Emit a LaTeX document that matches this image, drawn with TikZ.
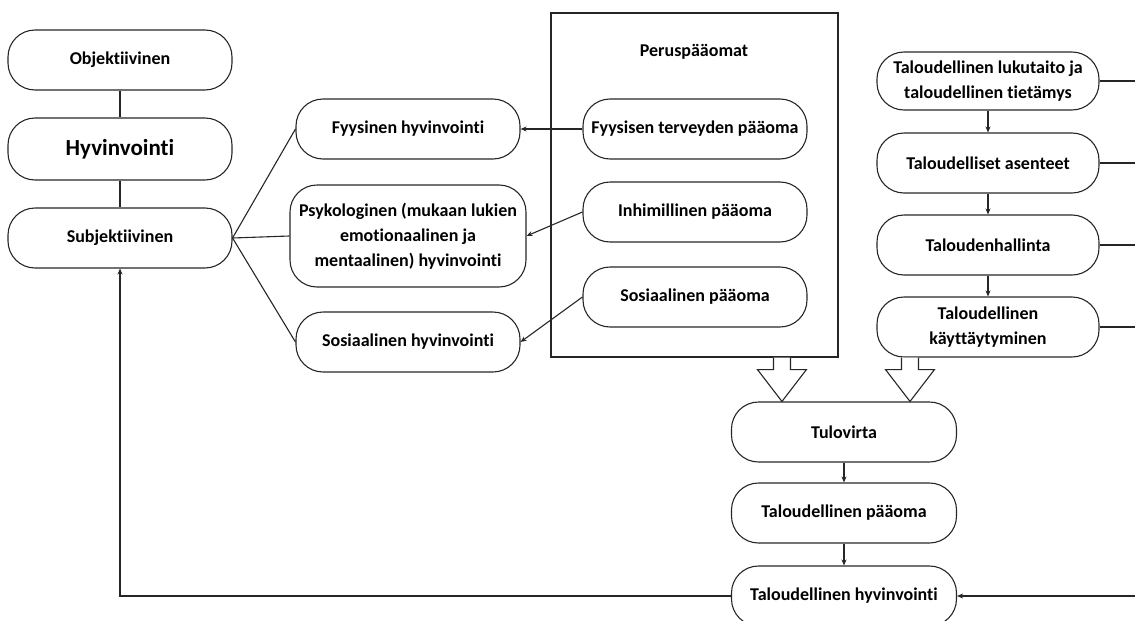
\documentclass[tikz,border=0pt]{standalone}
\usepackage{fontspec}
\setmainfont{Carlito}[Ligatures=NoCommon]
\usetikzlibrary{arrows.meta,calc}
\begin{document}
\begin{tikzpicture}[x=1pt,y=-1pt,
  pill/.style={draw=black!85, line width=1.1pt, rounded corners=27pt, minimum width=224pt, minimum height=60pt, align=center, font=\bfseries\fontsize{18}{25}\selectfont, inner sep=0pt, text=black},
  conn/.style={draw=black!85, line width=1.1pt},
  arr/.style={conn, -{Stealth[length=6pt,width=5pt]}},
  blockarrow/.style={draw=black!85, line width=1.1pt, fill=white, line join=miter}]
\useasboundingbox (0,0) rectangle (1135,621);
\coordinate (edge) at (1135,0);
% left column
\node[pill] (obj) at (120,60) {Objektiivinen};
\node[pill, minimum height=62pt, font=\bfseries\fontsize{23}{28}\selectfont] (hyv) at (120,149) {Hyvinvointi};
\node[pill] (subj) at (120,238) {Subjektiivinen};
% middle column
\node[pill] (fyh) at (408,129) {Fyysinen hyvinvointi};
\node[pill, minimum width=236pt, minimum height=102pt] (psy) at (408,236) {Psykologinen (mukaan lukien\\emotionaalinen ja\\mentaalinen) hyvinvointi};
\node[pill] (soh) at (408,342) {Sosiaalinen hyvinvointi};
% capitals box
\node[draw=black!85, line width=1.1pt, minimum width=287pt, minimum height=344pt, inner sep=0pt] (perus) at (694.5,185) {};
\node[font=\bfseries\fontsize{18}{25}\selectfont] (perust) at (694,52) {Peruspääomat};
\node[pill] (fyp) at (695,129) {Fyysisen terveyden pääoma};
\node[pill] (ihp) at (695,212) {Inhimillinen pääoma};
\node[pill] (sop) at (695,297) {Sosiaalinen pääoma};
% right column
\node[pill, minimum width=222pt, minimum height=58pt] (tl) at (988,81) {Taloudellinen lukutaito ja\\taloudellinen tietämys};
\node[pill, minimum width=222pt] (ta) at (988,163) {Taloudelliset asenteet};
\node[pill, minimum width=222pt] (th) at (988,245) {Taloudenhallinta};
\node[pill, minimum width=222pt] (tk) at (988,327) {Taloudellinen\\käyttäytyminen};
% bottom column
\node[pill, minimum width=225pt] (tv) at (844,432) {Tulovirta};
\node[pill, minimum width=225pt] (tp) at (844,513) {Taloudellinen pääoma};
\node[pill, minimum width=225pt] (thv) at (844,596) {Taloudellinen hyvinvointi};
% connectors
\draw[conn] (obj) -- (hyv);
\draw[conn] (hyv) -- (subj);
\draw[conn] (subj.east) -- (fyh.west);
\draw[conn] (subj.east) -- (psy.west);
\draw[conn] (subj.east) -- (soh.west);
\draw[arr] (fyp.west) -- (fyh.east);
\draw[arr] (ihp.west) -- (psy.east);
\draw[arr] (sop.west) -- (soh.east);
\draw[arr] (tl) -- (ta);
\draw[arr] (ta) -- (th);
\draw[arr] (th) -- (tk);
\draw[conn] (tl.east) -- (tl.east -| edge);
\draw[conn] (ta.east) -- (ta.east -| edge);
\draw[conn] (th.east) -- (th.east -| edge);
\draw[conn] (tk.east) -- (tk.east -| edge);
\draw[arr] (tv) -- (tp);
\draw[arr] (tp) -- (thv);
\draw[arr] (thv.east -| edge) -- (thv.east);
\draw[arr] (thv.west) -| (subj.south);
% block arrows
\coordinate (ba1) at (perus.south -| tv.north west);
\coordinate (ba1) at ($(ba1)+(51,0)$);
\coordinate (ba2) at ($(tk.south)+(-78,0)$);
\foreach \b in {ba1,ba2}{
  \draw[blockarrow] ($(\b)+(-8.5,0)$) -- ++(0,12) -- ++(-16,0) -- (\b |- tv.north) -- ($(\b)+(24.5,12)$) -- ++(-16,0) -- ($(\b)+(8.5,0)$);
}
\end{tikzpicture}
\end{document}
